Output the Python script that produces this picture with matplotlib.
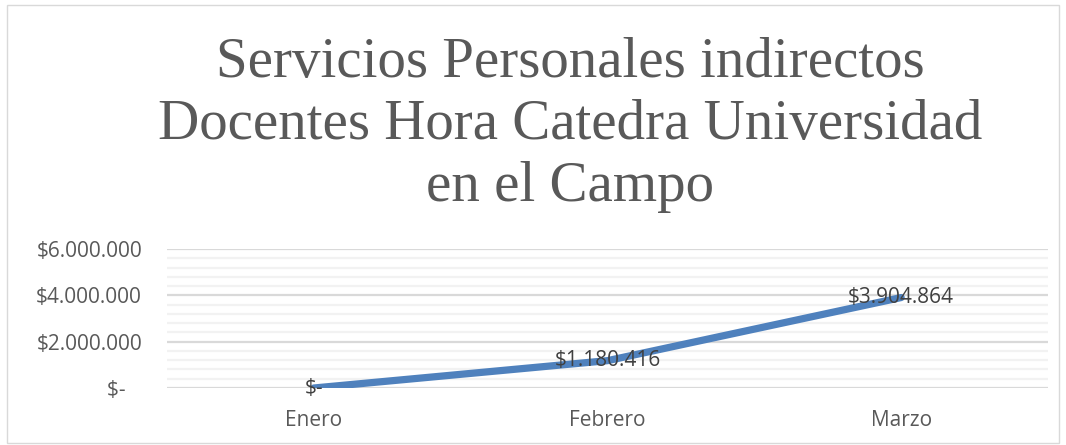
import matplotlib.pyplot as plt
from matplotlib.ticker import MultipleLocator, FuncFormatter
from matplotlib.patches import Rectangle

# data
meses = ['Enero', 'Febrero', 'Marzo']
valores = [0, 1180416, 3904864]
titulo = 'Servicios Personales indirectos\nDocentes Hora Catedra Universidad\nen el Campo'


def pesos(v, pos=None):
    if v == 0:
        return '$-'
    return '$' + f'{int(round(v)):,}'.replace(',', '.')


def pesos_eje(v, pos=None):
    # excel accounting format leaves a gap after the dash
    if v == 0:
        return '$-   '
    return pesos(v)


fig = plt.figure(figsize=(10.66, 4.45), dpi=100)
ax = fig.add_axes([167 / 1066, 1 - 388 / 445, (1048 - 167) / 1066, (388 - 249) / 445])

x = list(range(len(meses)))
ax.plot(x, valores, color='#4F81BD', lw=5.2, solid_capstyle='round', zorder=3)
for xi, v in zip(x, valores):
    ax.text(xi, v, pesos(v), ha='center', va='center', fontsize=15,
            color='#404040', family='Open Sans', zorder=4)

ax.set_xlim(-0.5, len(meses) - 0.5)
ax.set_ylim(0, 6000000)
ax.yaxis.set_major_locator(MultipleLocator(2000000))
ax.yaxis.set_minor_locator(MultipleLocator(400000))
ax.yaxis.set_major_formatter(FuncFormatter(pesos_eje))
ax.grid(axis='y', which='major', color='#D9D9D9', lw=1.6)
ax.grid(axis='y', which='minor', color='#F2F2F2', lw=1.6)
ax.set_axisbelow(True)
ax.set_xticks(x)
ax.set_xticklabels(meses)
for s in ax.spines.values():
    s.set_visible(False)
ax.tick_params(axis='both', which='both', length=0, labelsize=15, labelcolor='#595959')
ax.tick_params(axis='x', pad=16)
ax.tick_params(axis='y', pad=18)
for lab in ax.get_xticklabels() + ax.get_yticklabels():
    lab.set_family('Open Sans')

fig.text(0.535, 0.917, titulo, ha='center', va='top', fontsize=41,
         color='#595959', family='Liberation Serif', linespacing=1.25)

fig.patches.append(Rectangle((7 / 1066, 2 / 445), 1052 / 1066, 438 / 445,
                             transform=fig.transFigure, fill=False,
                             edgecolor='#D9D9D9', lw=1))

fig.savefig('out.png', dpi=100)
